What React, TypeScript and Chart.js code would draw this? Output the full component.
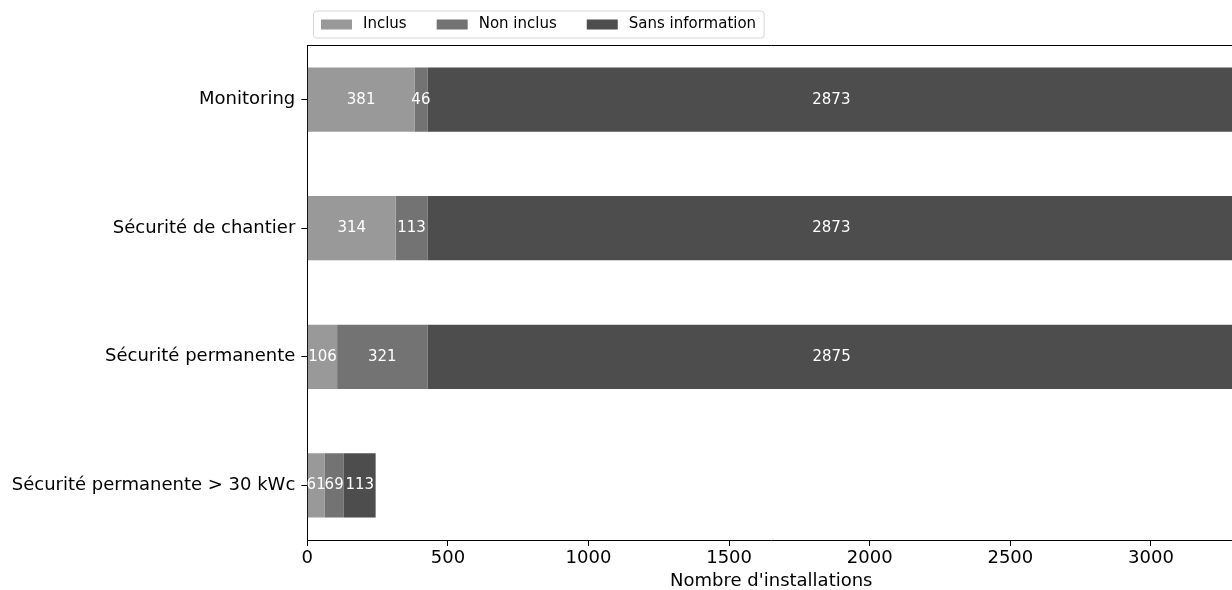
import React, { useEffect, useRef } from 'react';
import { Chart, registerables } from 'chart.js';

Chart.register(...registerables);

const categories = [
  'Monitoring',
  'Sécurité de chantier',
  'Sécurité permanente',
  'Sécurité permanente > 30 kWc',
];
const seriesNames = ['Inclus', 'Non inclus', 'Sans information'];
const inclus = [381, 314, 106, 61];
const nonInclus = [46, 113, 321, 69];
const sansInfo = [2873, 2873, 2875, 113];
const xTicks = [0, 500, 1000, 1500, 2000, 2500, 3000];
const xTitle = "Nombre d'installations";

const colors = ['#999999', '#737373', '#4d4d4d'];
const FONT = 'DejaVu Sans';

const framePlugin = {
  id: 'mplFrame',
  afterDraw(chart: any) {
    const { ctx, chartArea } = chart;
    ctx.save();
    ctx.strokeStyle = '#000';
    ctx.lineWidth = 1;
    ctx.beginPath();
    ctx.moveTo(chartArea.left, chartArea.top + 0.5);
    ctx.lineTo(chartArea.right, chartArea.top + 0.5);
    ctx.moveTo(chartArea.right - 0.5, chartArea.top);
    ctx.lineTo(chartArea.right - 0.5, chartArea.bottom);
    ctx.stroke();
    ctx.restore();
  },
};

const valueLabelPlugin = {
  id: 'valueLabels',
  afterDatasetsDraw(chart: any) {
    const { ctx } = chart;
    ctx.save();
    ctx.font = `15px "${FONT}"`;
    ctx.fillStyle = '#ffffff';
    ctx.textAlign = 'center';
    ctx.textBaseline = 'middle';
    chart.data.datasets.forEach((ds: any, di: number) => {
      const meta = chart.getDatasetMeta(di);
      meta.data.forEach((el: any, i: number) => {
        const p = el.getProps(['x', 'y', 'base'], true);
        const v = ds.data[i].x;
        ctx.fillText(String(v), (p.x + p.base) / 2, p.y);
      });
    });
    ctx.restore();
  },
};

const legendPlugin = {
  id: 'mplLegend',
  afterDraw(chart: any) {
    const { ctx } = chart;
    const fs = 15;
    ctx.save();
    ctx.font = `${fs}px "${FONT}"`;
    const frameLeft = 313.5;
    const frameTop = 11;
    const frameH = 27;
    const handleW = 31;
    const handleH = 10;
    const textPad = 11;
    const colSpace = 30;
    let x = frameLeft + 7.5;
    const items: any[] = [];
    chart.data.datasets.forEach((ds: any) => {
      const w = ctx.measureText(ds.label).width;
      items.push({ x, label: ds.label, color: ds.backgroundColor, w });
      x += handleW + textPad + w + colSpace;
    });
    const last = items[items.length - 1];
    const frameRight = last.x + handleW + textPad + last.w + 8;
    const r = 3;
    const fw = frameRight - frameLeft;
    ctx.beginPath();
    ctx.moveTo(frameLeft + r, frameTop);
    ctx.lineTo(frameLeft + fw - r, frameTop);
    ctx.quadraticCurveTo(frameLeft + fw, frameTop, frameLeft + fw, frameTop + r);
    ctx.lineTo(frameLeft + fw, frameTop + frameH - r);
    ctx.quadraticCurveTo(frameLeft + fw, frameTop + frameH, frameLeft + fw - r, frameTop + frameH);
    ctx.lineTo(frameLeft + r, frameTop + frameH);
    ctx.quadraticCurveTo(frameLeft, frameTop + frameH, frameLeft, frameTop + frameH - r);
    ctx.lineTo(frameLeft, frameTop + r);
    ctx.quadraticCurveTo(frameLeft, frameTop, frameLeft + r, frameTop);
    ctx.closePath();
    ctx.fillStyle = 'rgba(255,255,255,0.8)';
    ctx.fill();
    ctx.strokeStyle = '#d6d6d6';
    ctx.lineWidth = 1;
    ctx.stroke();
    const cy = frameTop + frameH / 2;
    items.forEach((it) => {
      ctx.fillStyle = it.color;
      ctx.fillRect(it.x, cy - handleH / 2, handleW, handleH);
      ctx.fillStyle = '#000';
      ctx.textAlign = 'left';
      ctx.textBaseline = 'middle';
      ctx.fillText(it.label, it.x + handleW + textPad, cy);
    });
    ctx.restore();
  },
};

export default function App() {
  const canvasRef = useRef<HTMLCanvasElement | null>(null);

  useEffect(() => {
    const canvas = canvasRef.current;
    if (!canvas) return;
    const series = [inclus, nonInclus, sansInfo];
    const chart = new Chart(canvas, {
      type: 'bar',
      data: {
        datasets: series.map((vals, si) => ({
          label: seriesNames[si],
          data: vals.map((v, i) => ({ x: v, y: i })),
          backgroundColor: colors[si],
          borderWidth: 0,
          barPercentage: 0.5,
          categoryPercentage: 1,
        })),
      },
      options: {
        indexAxis: 'y',
        responsive: false,
        animation: false,
        devicePixelRatio: 1,
        layout: { padding: { top: 45, right: 4.7, left: 0, bottom: 0 } },
        plugins: {
          legend: { display: false },
          tooltip: { enabled: false },
        },
        scales: {
          x: {
            type: 'linear',
            position: 'bottom',
            stacked: true,
            offset: false,
            min: 0,
            max: 3300,
            afterBuildTicks: (axis: any) => {
              axis.ticks = xTicks.map((v) => ({ value: v }));
            },
            afterFit: (scale: any) => {
              scale.height = 50;
            },
            ticks: {
              color: '#000',
              font: { family: FONT, size: 18 },
              padding: 2,
              maxRotation: 0,
              autoSkip: false,
              callback: (v: any) => String(v),
            },
            grid: {
              display: true,
              offset: false,
              drawOnChartArea: false,
              drawTicks: true,
              tickLength: 6,
              tickColor: '#000',
              tickWidth: 1,
            },
            border: { display: true, color: '#000', width: 1 },
            title: {
              display: true,
              text: xTitle,
              color: '#000',
              font: { family: FONT, size: 18, lineHeight: 1 },
              padding: { top: 0, bottom: 0 },
            },
          },
          y: {
            type: 'linear',
            position: 'left',
            stacked: true,
            reverse: true,
            offset: false,
            min: -0.425,
            max: 3.425,
            afterBuildTicks: (axis: any) => {
              axis.ticks = categories.map((_, i) => ({ value: i }));
            },
            afterFit: (scale: any) => {
              scale.width = 307.3;
            },
            ticks: {
              color: '#000',
              font: { family: FONT, size: 18 },
              padding: 6,
              autoSkip: false,
              callback: (v: any) => categories[Math.round(Number(v))] ?? '',
            },
            grid: {
              display: true,
              offset: false,
              drawOnChartArea: false,
              drawTicks: true,
              tickLength: 6,
              tickColor: '#000',
              tickWidth: 1,
            },
            border: { display: true, color: '#000', width: 1 },
          },
        },
      } as any,
      plugins: [framePlugin, valueLabelPlugin, legendPlugin],
    });
    return () => chart.destroy();
  }, []);

  return (
    <div
      style={{
        position: 'fixed',
        left: 0,
        top: 0,
        width: 1232,
        height: 590,
        overflow: 'hidden',
        background: '#fff',
      }}
    >
      <canvas ref={canvasRef} width={1240} height={590} style={{ display: 'block' }} />
    </div>
  );
}
